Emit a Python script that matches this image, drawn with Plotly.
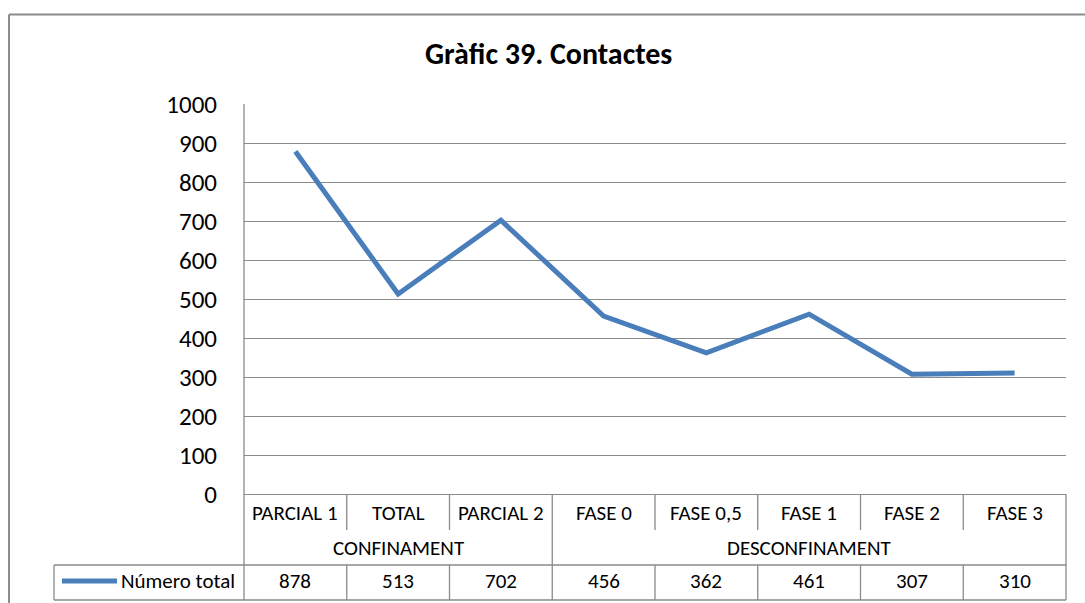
import plotly.graph_objects as go

# Series and axis labels
categories = ["PARCIAL 1", "TOTAL", "PARCIAL 2", "FASE 0", "FASE 0,5", "FASE 1", "FASE 2", "FASE 3"]
groups = ["CONFINAMENT", "DESCONFINAMENT"]
group_sizes = [3, 5]
series_name = "Número total"
values = [878, 513, 702, 456, 362, 461, 307, 310]
y_ticks = list(range(0, 1001, 100))

W, H = 1085, 603
L, R, T, B = 244, 1066, 104, 494  # plot area in pixels
LINE_BLUE = "#4a7ebb"
GRID = "#8a8a8a"
FONT = "Carlito, Calibri, Lato, sans-serif"


def px(xp):
    return (xp - L) / (R - L)


def py(yp):
    return (B - yp) / (B - T)


n = len(categories)
fig = go.Figure()
fig.add_trace(go.Scatter(
    x=list(range(n)), y=values, mode="lines", name=series_name,
    line=dict(color=LINE_BLUE, width=5), showlegend=False, hoverinfo="x+y",
))

shapes = []


def seg(x0, y0, x1, y1, color=GRID, width=1.3):
    shapes.append(dict(type="line", xref="paper", yref="paper",
                       x0=px(x0), y0=py(y0), x1=px(x1), y1=py(y1),
                       line=dict(color=color, width=width)))


# outer chart frame
seg(9, 14.5, 1100, 14.5, color="#8c8c8c", width=2)
seg(9, 14.5, 9, 620, color="#8c8c8c", width=2)

# data-table grid below the axis
row_cat, row_grp, row_val = 530, 565, 600
cell_w = (R - L) / n
seg(L, T, L, row_val)          # value axis line extended through the table
seg(R, B, R, row_val)
seg(54, row_grp, R, row_grp)
seg(54, row_val, R, row_val)
seg(54, row_grp, 54, row_val)
bounds = [L + cell_w * k for k in range(1, n)]
group_edges = set()
acc = 0
for gs in group_sizes[:-1]:
    acc += gs
    group_edges.add(acc)
for k, xb in enumerate(bounds, start=1):
    if k in group_edges:
        seg(xb, B, xb, row_val)
    else:
        seg(xb, B, xb, row_cat)
        seg(xb, row_grp, xb, row_val)

# legend key inside the table
seg(62, 581, 117, 581, color=LINE_BLUE, width=5)

annotations = []
label_font = dict(family=FONT, size=21, color="#000000")
for i, (c, v) in enumerate(zip(categories, values)):
    annotations.append(dict(x=i, y=py(513), xref="x", yref="paper", text=c,
                            showarrow=False, font=label_font, yanchor="middle"))
    annotations.append(dict(x=i, y=py(581), xref="x", yref="paper", text=str(v),
                            showarrow=False, font=label_font, yanchor="middle"))
start = 0
for g, gs in zip(groups, group_sizes):
    centre = start + (gs - 1) / 2
    annotations.append(dict(x=centre, y=py(548), xref="x", yref="paper", text=g,
                            showarrow=False, font=label_font, yanchor="middle"))
    start += gs
annotations.append(dict(x=px(237), y=py(581), xref="paper", yref="paper", text=series_name,
                        showarrow=False, font=label_font, xanchor="right", yanchor="middle"))
annotations.append(dict(x=px(548), y=py(53), xref="paper", yref="paper",
                        text="<b>Gràfic 39. Contactes</b>", showarrow=False,
                        font=dict(family=FONT, size=30, color="#000000"), yanchor="middle"))

fig.update_layout(
    width=W, height=H,
    margin=dict(l=L, r=W - R, t=T, b=H - B, pad=0),
    paper_bgcolor="white", plot_bgcolor="white",
    xaxis=dict(range=[-0.5, n - 0.5], showgrid=False, showticklabels=False,
               zeroline=False, showline=True, linecolor=GRID, linewidth=1.3, ticks=""),
    yaxis=dict(range=[0, 1000], tickvals=y_ticks, showgrid=True, gridcolor=GRID,
               gridwidth=1.3, zeroline=False, showline=False, ticks="",
               ticklabelstandoff=26,
               tickfont=dict(family=FONT, size=25, color="#000000")),
    shapes=shapes, annotations=annotations,
)

fig.write_html("out.html")
